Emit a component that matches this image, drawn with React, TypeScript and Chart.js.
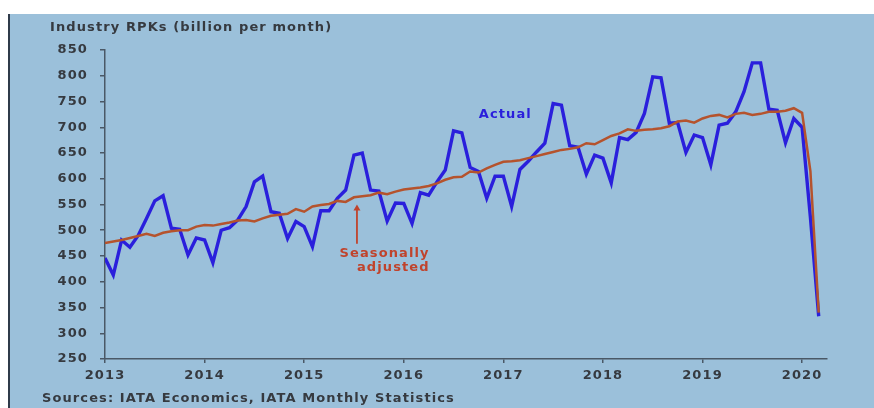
import React, { useEffect, useRef } from "react";
import { Chart, registerables } from "chart.js";

Chart.register(...registerables);

// ---- data ----
const START_YEAR = 2013;
const YEAR_TICKS = [2013, 2014, 2015, 2016, 2017, 2018, 2019, 2020];
const X_MIN = 2013;
const X_MAX = 2020.25;
const Y_MIN = 250;
const Y_MAX = 850;
const Y_STEP = 50;

// Monthly industry RPKs, Jan 2013 – Mar 2020 (billion per month)
const ACTUAL = [
  446, 413, 481, 467, 490, 523, 557, 567, 504, 502, 452, 485,
  481, 437, 500, 505, 520, 546, 594, 605, 536, 533, 484, 517,
  507, 468, 538, 538, 562, 578, 646, 650, 578, 576, 518, 553,
  552, 513, 573, 568, 594, 617, 693, 689, 622, 614, 562, 605,
  605, 546, 618, 634, 652, 669, 746, 743, 664, 661, 609, 646,
  640, 592, 680, 676, 690, 727, 798, 796, 708, 709, 651, 685,
  680, 627, 704, 708, 730, 769, 825, 825, 735, 733, 670, 717,
  700, 525, 333,
];

const SEASONALLY_ADJUSTED = [
  475, 478, 481, 485, 489, 493, 489, 495, 498, 500, 500, 507,
  510, 509, 512, 515, 519, 520, 517, 523, 528, 530, 532, 541,
  536, 546, 549, 551, 557, 555, 564, 566, 568, 573, 570, 575,
  579, 581, 583, 586, 591, 598, 603, 604, 614, 612, 620, 627,
  633, 634, 636, 640, 644, 648, 652, 656, 658, 661, 669, 667,
  675, 683, 688, 696, 693, 695, 696, 698, 702, 711, 713, 709,
  717, 722, 724, 719, 726, 728, 724, 726, 730, 730, 732, 737,
  728, 615, 340,
];

const TITLE = "Industry RPKs (billion per month)";
const SOURCE = "Sources: IATA Economics, IATA Monthly Statistics";
const ACTUAL_LABEL = "Actual";
const SA_LABEL_LINES = ["Seasonally", "adjusted"];

// annotation anchors in data units
const ACTUAL_LABEL_AT = { x: 2017.02, y: 724 };
const SA_LABEL_AT = { x: 2016.26, y1: 454, y2: 427 };
const SA_ARROW = { x: 2015.53, from: 474, to: 550 };

// ---- styles ----
const BG = "#9bc0da";
const BLUE = "#2a1fdc";
const RED = "#b5532d";
const RED_TEXT = "#c0432c";
const TEXT = "#363a40";
const AXIS = "#4a5866";
const FONT = '"DejaVu Sans", Verdana, sans-serif';
const SPACING = "1.1px";

const toPoints = (vals: number[]) =>
  vals.map((v, i) => ({ x: START_YEAR + i / 12, y: v }));

const spacingPlugin = {
  id: "spacing",
  beforeDraw(chart: any) {
    chart.ctx.letterSpacing = SPACING;
  },
};

const annotationPlugin = {
  id: "annotations",
  afterDatasetsDraw(chart: any) {
    const { ctx } = chart;
    const xs = chart.scales.x;
    const ys = chart.scales.y;
    ctx.save();
    ctx.letterSpacing = SPACING;
    ctx.font = `bold 13px ${FONT}`;
    ctx.textBaseline = "middle";

    ctx.fillStyle = BLUE;
    ctx.textAlign = "center";
    ctx.fillText(
      ACTUAL_LABEL,
      xs.getPixelForValue(ACTUAL_LABEL_AT.x),
      ys.getPixelForValue(ACTUAL_LABEL_AT.y)
    );

    ctx.fillStyle = RED_TEXT;
    ctx.textAlign = "right";
    const sx = xs.getPixelForValue(SA_LABEL_AT.x);
    ctx.fillText(SA_LABEL_LINES[0], sx, ys.getPixelForValue(SA_LABEL_AT.y1));
    ctx.fillText(SA_LABEL_LINES[1], sx, ys.getPixelForValue(SA_LABEL_AT.y2));

    // arrow
    const ax = xs.getPixelForValue(SA_ARROW.x);
    const ay0 = ys.getPixelForValue(SA_ARROW.from);
    const ay1 = ys.getPixelForValue(SA_ARROW.to);
    ctx.strokeStyle = RED_TEXT;
    ctx.fillStyle = RED_TEXT;
    ctx.lineWidth = 1.8;
    ctx.beginPath();
    ctx.moveTo(ax, ay0);
    ctx.lineTo(ax, ay1 + 4);
    ctx.stroke();
    ctx.beginPath();
    ctx.moveTo(ax, ay1);
    ctx.lineTo(ax - 3.5, ay1 + 6);
    ctx.lineTo(ax + 3.5, ay1 + 6);
    ctx.closePath();
    ctx.fill();
    ctx.restore();
  },
};

export default function App() {
  const canvasRef = useRef<HTMLCanvasElement | null>(null);

  useEffect(() => {
    const canvas = canvasRef.current;
    if (!canvas) return;
    const chart = new Chart(canvas, {
      type: "line",
      data: {
        datasets: [
          {
            label: "Seasonally adjusted",
            data: toPoints(SEASONALLY_ADJUSTED),
            borderColor: RED,
            borderWidth: 2.5,
            pointRadius: 0,
            tension: 0,
            order: 0,
          },
          {
            label: "Actual",
            data: toPoints(ACTUAL),
            borderColor: BLUE,
            borderWidth: 3.4,
            pointRadius: 0,
            tension: 0,
            order: 1,
          },
        ],
      },
      options: {
        animation: false,
        responsive: false,
        devicePixelRatio: 1,
        layout: { padding: { left: 0, top: 50, right: 47, bottom: 0 } },
        plugins: {
          legend: { display: false },
          tooltip: { enabled: false },
          title: { display: false },
        },
        scales: {
          x: {
            type: "linear",
            min: X_MIN,
            max: X_MAX,
            afterFit: (s: any) => {
              s.height = 49;
            },
            afterBuildTicks: (s: any) => {
              s.ticks = YEAR_TICKS.map((v) => ({ value: v }));
            },
            border: { display: true, color: AXIS, width: 1.5 },
            grid: {
              drawOnChartArea: false,
              drawTicks: true,
              tickLength: 4,
              color: AXIS,
              lineWidth: 1.5,
            },
            ticks: {
              autoSkip: false,
              maxRotation: 0,
              padding: 5,
              color: TEXT,
              font: { family: FONT, size: 13, weight: "bold" },
              callback: (v: any) => String(v),
            },
          },
          y: {
            type: "linear",
            min: Y_MIN,
            max: Y_MAX,
            afterFit: (s: any) => {
              s.width = 105;
            },
            border: { display: true, color: AXIS, width: 1.5 },
            grid: {
              drawOnChartArea: false,
              drawTicks: true,
              tickLength: 5,
              color: AXIS,
              lineWidth: 1.5,
            },
            ticks: {
              stepSize: Y_STEP,
              padding: 12,
              color: TEXT,
              font: { family: FONT, size: 13, weight: "bold" },
              callback: (v: any) => String(v),
            },
          },
        },
      },
      plugins: [spacingPlugin, annotationPlugin],
    } as any);
    return () => chart.destroy();
  }, []);

  const textStyle: React.CSSProperties = {
    position: "absolute",
    fontFamily: FONT,
    fontWeight: "bold",
    fontSize: 13,
    lineHeight: "16px",
    letterSpacing: SPACING,
    color: TEXT,
    whiteSpace: "nowrap",
  };

  return (
    <div
      style={{
        position: "absolute",
        left: 0,
        top: 0,
        width: 874,
        height: 408,
        background: "#ffffff",
        overflow: "hidden",
      }}
    >
      <div
        style={{
          position: "absolute",
          left: 8,
          top: 14,
          width: 866,
          height: 394,
          background: BG,
          borderLeft: "2.5px solid #2f3b4a",
          boxSizing: "border-box",
        }}
      />
      <canvas
        ref={canvasRef}
        width={874}
        height={408}
        style={{ position: "absolute", left: 0, top: 0, width: 874, height: 408 }}
      />
      <div style={{ ...textStyle, left: 50, top: 19 }}>{TITLE}</div>
      <div style={{ ...textStyle, left: 42, top: 390 }}>{SOURCE}</div>
    </div>
  );
}
